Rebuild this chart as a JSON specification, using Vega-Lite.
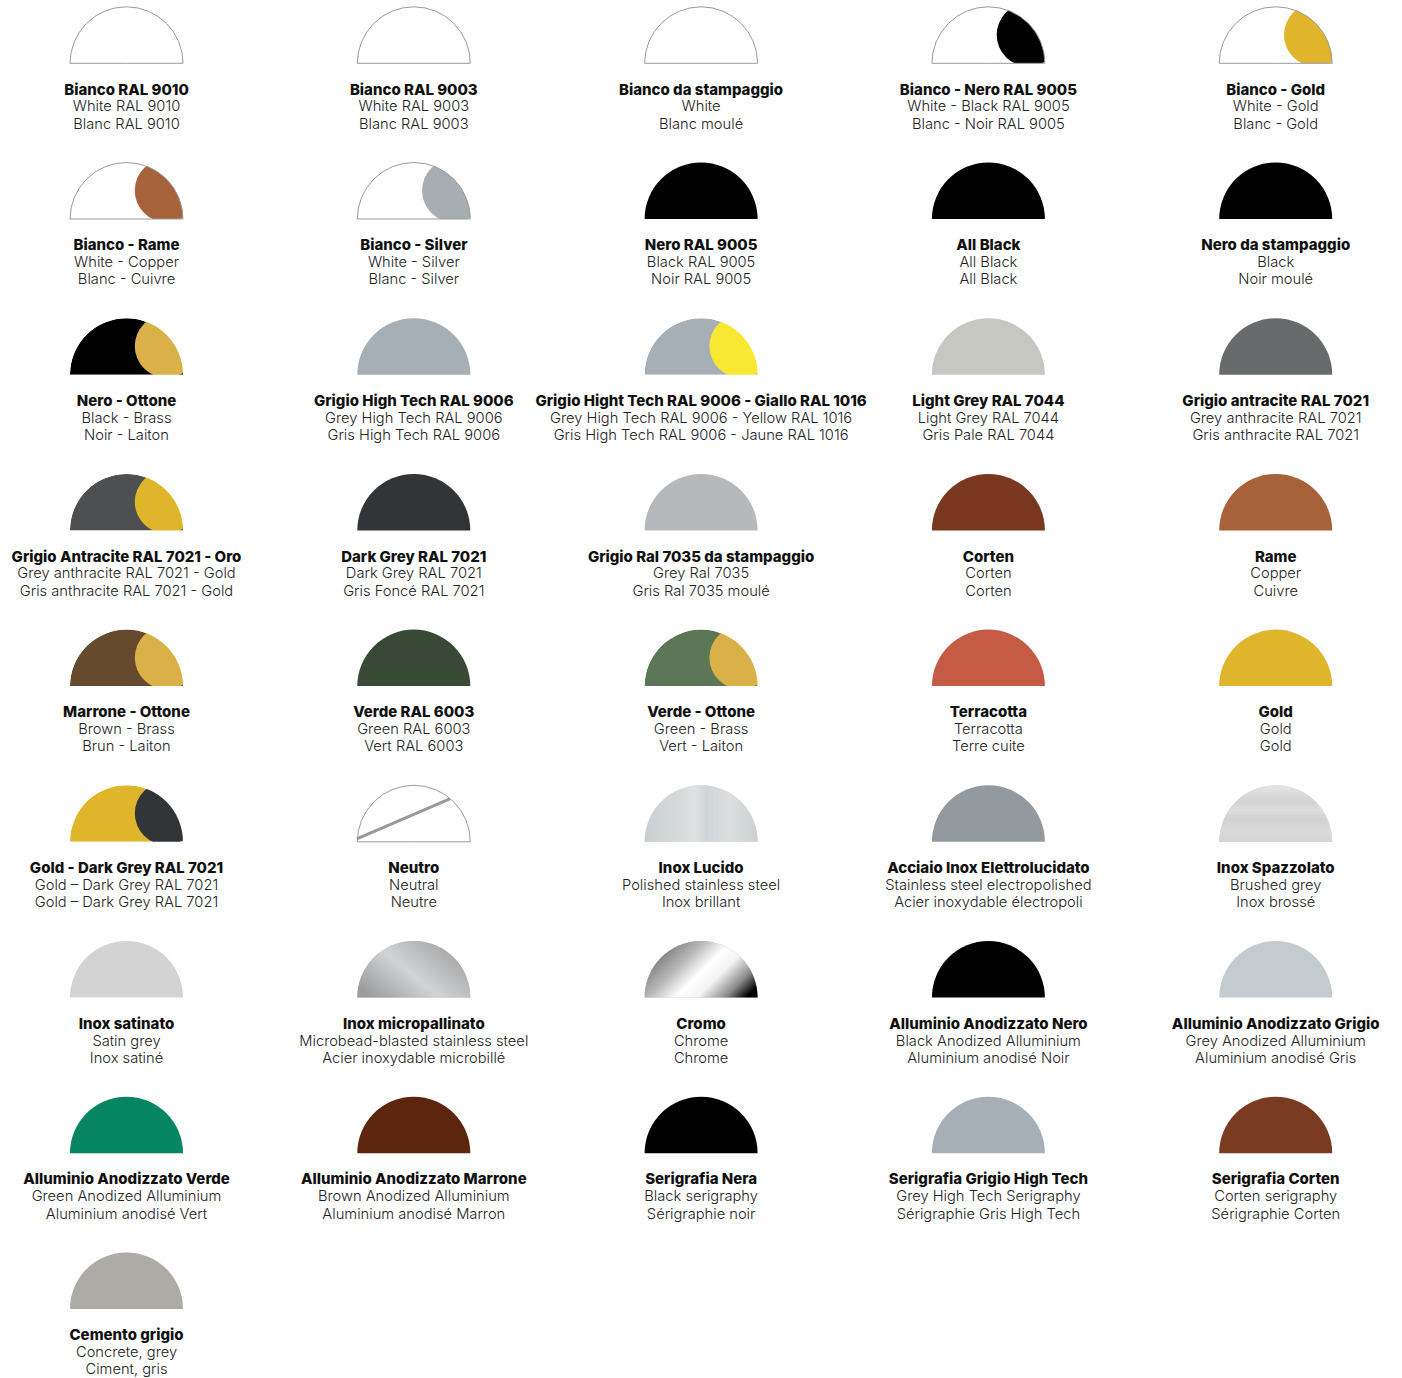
{
  "$schema": "https://vega.github.io/schema/vega-lite/v6.json",
  "width": 1402,
  "height": 1378,
  "autosize": {"type": "none"},
  "padding": 0,
  "background": "#ffffff",
  "config": {"view": {"stroke": null}},
  "data": {"values": [
    {"col": 0, "row": 0, "l1": "Bianco RAL 9010", "l2": "White RAL 9010", "l3": "Blanc RAL 9010", "main": "Bianco", "accent": null, "outline": true, "tex": null},
    {"col": 1, "row": 0, "l1": "Bianco RAL 9003", "l2": "White RAL 9003", "l3": "Blanc RAL 9003", "main": "Bianco", "accent": null, "outline": true, "tex": null},
    {"col": 2, "row": 0, "l1": "Bianco da stampaggio", "l2": "White", "l3": "Blanc moulé", "main": "Bianco", "accent": null, "outline": true, "tex": null},
    {"col": 3, "row": 0, "l1": "Bianco - Nero RAL 9005", "l2": "White - Black RAL 9005", "l3": "Blanc - Noir RAL 9005", "main": "Bianco", "accent": "Nero", "outline": true, "tex": null},
    {"col": 4, "row": 0, "l1": "Bianco - Gold", "l2": "White - Gold", "l3": "Blanc - Gold", "main": "Bianco", "accent": "Gold", "outline": true, "tex": null},
    {"col": 0, "row": 1, "l1": "Bianco - Rame", "l2": "White - Copper", "l3": "Blanc - Cuivre", "main": "Bianco", "accent": "Rame", "outline": true, "tex": null},
    {"col": 1, "row": 1, "l1": "Bianco - Silver", "l2": "White - Silver", "l3": "Blanc - Silver", "main": "Bianco", "accent": "Silver", "outline": true, "tex": null},
    {"col": 2, "row": 1, "l1": "Nero RAL 9005", "l2": "Black RAL 9005", "l3": "Noir RAL 9005", "main": "Nero", "accent": null, "outline": false, "tex": null},
    {"col": 3, "row": 1, "l1": "All Black", "l2": "All Black", "l3": "All Black", "main": "Nero", "accent": null, "outline": false, "tex": null},
    {"col": 4, "row": 1, "l1": "Nero da stampaggio", "l2": "Black", "l3": "Noir moulé", "main": "Nero", "accent": null, "outline": false, "tex": null},
    {"col": 0, "row": 2, "l1": "Nero - Ottone", "l2": "Black - Brass", "l3": "Noir - Laiton", "main": "Nero", "accent": "Ottone", "outline": false, "tex": null},
    {"col": 1, "row": 2, "l1": "Grigio High Tech RAL 9006", "l2": "Grey High Tech RAL 9006", "l3": "Gris High Tech RAL 9006", "main": "High Tech", "accent": null, "outline": false, "tex": null},
    {"col": 2, "row": 2, "l1": "Grigio Hight Tech RAL 9006 - Giallo RAL 1016", "l2": "Grey High Tech RAL 9006 - Yellow RAL 1016", "l3": "Gris High Tech RAL 9006 - Jaune RAL 1016", "main": "High Tech", "accent": "Giallo", "outline": false, "tex": null},
    {"col": 3, "row": 2, "l1": "Light Grey RAL 7044", "l2": "Light Grey RAL 7044", "l3": "Gris Pale RAL 7044", "main": "Light Grey", "accent": null, "outline": false, "tex": null},
    {"col": 4, "row": 2, "l1": "Grigio antracite RAL 7021", "l2": "Grey anthracite RAL 7021", "l3": "Gris anthracite RAL 7021", "main": "Antracite", "accent": null, "outline": false, "tex": null},
    {"col": 0, "row": 3, "l1": "Grigio Antracite RAL 7021 - Oro", "l2": "Grey anthracite RAL 7021 - Gold", "l3": "Gris anthracite RAL 7021 - Gold", "main": "Antracite scuro", "accent": "Gold", "outline": false, "tex": null},
    {"col": 1, "row": 3, "l1": "Dark Grey RAL 7021", "l2": "Dark Grey RAL 7021", "l3": "Gris Foncé RAL 7021", "main": "Dark Grey", "accent": null, "outline": false, "tex": null},
    {"col": 2, "row": 3, "l1": "Grigio Ral 7035 da stampaggio", "l2": "Grey Ral 7035", "l3": "Gris Ral 7035 moulé", "main": "Grigio 7035", "accent": null, "outline": false, "tex": null},
    {"col": 3, "row": 3, "l1": "Corten", "l2": "Corten", "l3": "Corten", "main": "Corten", "accent": null, "outline": false, "tex": null},
    {"col": 4, "row": 3, "l1": "Rame", "l2": "Copper", "l3": "Cuivre", "main": "Rame", "accent": null, "outline": false, "tex": null},
    {"col": 0, "row": 4, "l1": "Marrone - Ottone", "l2": "Brown - Brass", "l3": "Brun - Laiton", "main": "Marrone", "accent": "Ottone", "outline": false, "tex": null},
    {"col": 1, "row": 4, "l1": "Verde RAL 6003", "l2": "Green RAL 6003", "l3": "Vert RAL 6003", "main": "Verde 6003", "accent": null, "outline": false, "tex": null},
    {"col": 2, "row": 4, "l1": "Verde - Ottone", "l2": "Green - Brass", "l3": "Vert - Laiton", "main": "Verde", "accent": "Ottone", "outline": false, "tex": null},
    {"col": 3, "row": 4, "l1": "Terracotta", "l2": "Terracotta", "l3": "Terre cuite", "main": "Terracotta", "accent": null, "outline": false, "tex": null},
    {"col": 4, "row": 4, "l1": "Gold", "l2": "Gold", "l3": "Gold", "main": "Gold", "accent": null, "outline": false, "tex": null},
    {"col": 0, "row": 5, "l1": "Gold - Dark Grey RAL 7021", "l2": "Gold – Dark Grey RAL 7021", "l3": "Gold – Dark Grey RAL 7021", "main": "Gold", "accent": "Dark Grey", "outline": false, "tex": null},
    {"col": 1, "row": 5, "l1": "Neutro", "l2": "Neutral", "l3": "Neutre", "main": "Bianco", "accent": null, "outline": true, "tex": "neutro"},
    {"col": 2, "row": 5, "l1": "Inox Lucido", "l2": "Polished stainless steel", "l3": "Inox brillant", "main": "Inox Lucido", "accent": null, "outline": false, "tex": "lucido"},
    {"col": 3, "row": 5, "l1": "Acciaio Inox Elettrolucidato", "l2": "Stainless steel electropolished", "l3": "Acier inoxydable électropoli", "main": "Elettrolucidato", "accent": null, "outline": false, "tex": null},
    {"col": 4, "row": 5, "l1": "Inox Spazzolato", "l2": "Brushed grey", "l3": "Inox brossé", "main": "Spazzolato", "accent": null, "outline": false, "tex": "spazzolato"},
    {"col": 0, "row": 6, "l1": "Inox satinato", "l2": "Satin grey", "l3": "Inox satiné", "main": "Satinato", "accent": null, "outline": false, "tex": null},
    {"col": 1, "row": 6, "l1": "Inox micropallinato", "l2": "Microbead-blasted stainless steel", "l3": "Acier inoxydable microbillé", "main": "Micropallinato", "accent": null, "outline": false, "tex": "micro"},
    {"col": 2, "row": 6, "l1": "Cromo", "l2": "Chrome", "l3": "Chrome", "main": "Cromo", "accent": null, "outline": false, "tex": "cromo"},
    {"col": 3, "row": 6, "l1": "Alluminio Anodizzato Nero", "l2": "Black Anodized Alluminium", "l3": "Aluminium anodisé Noir", "main": "Nero", "accent": null, "outline": false, "tex": null},
    {"col": 4, "row": 6, "l1": "Alluminio Anodizzato Grigio", "l2": "Grey Anodized Alluminium", "l3": "Aluminium anodisé Gris", "main": "Anodizzato Grigio", "accent": null, "outline": false, "tex": null},
    {"col": 0, "row": 7, "l1": "Alluminio Anodizzato Verde", "l2": "Green Anodized Alluminium", "l3": "Aluminium anodisé Vert", "main": "Anodizzato Verde", "accent": null, "outline": false, "tex": null},
    {"col": 1, "row": 7, "l1": "Alluminio Anodizzato Marrone", "l2": "Brown Anodized Alluminium", "l3": "Aluminium anodisé Marron", "main": "Anodizzato Marrone", "accent": null, "outline": false, "tex": null},
    {"col": 2, "row": 7, "l1": "Serigrafia Nera", "l2": "Black serigraphy", "l3": "Sérigraphie noir", "main": "Nero", "accent": null, "outline": false, "tex": null},
    {"col": 3, "row": 7, "l1": "Serigrafia Grigio High Tech", "l2": "Grey High Tech Serigraphy", "l3": "Sérigraphie Gris High Tech", "main": "High Tech", "accent": null, "outline": false, "tex": null},
    {"col": 4, "row": 7, "l1": "Serigrafia Corten", "l2": "Corten serigraphy", "l3": "Sérigraphie Corten", "main": "Serigrafia Corten", "accent": null, "outline": false, "tex": null},
    {"col": 0, "row": 8, "l1": "Cemento grigio", "l2": "Concrete, grey", "l3": "Ciment, gris", "main": "Cemento", "accent": null, "outline": false, "tex": null}
  ]},
  "encoding": {
    "x": {"field": "col", "type": "quantitative", "scale": {"domain": [-0.4403, 4.4396], "nice": false, "zero": false}, "axis": null},
    "y": {"field": "row", "type": "quantitative", "scale": {"domain": [-0.4066, 8.4438], "nice": false, "zero": false, "reverse": true}, "axis": null}
  },
  "layer": [
    {
      "mark": {"type": "arc", "theta": -1.5707963, "theta2": 1.5707963, "radius": 56.5},
      "encoding": {
        "color": {"field": "main", "type": "nominal", "legend": null, "scale": {
          "domain": ["Bianco", "Nero", "Gold", "Rame", "Silver", "Ottone", "High Tech", "Giallo", "Light Grey", "Antracite", "Antracite scuro", "Dark Grey", "Grigio 7035", "Corten", "Marrone", "Verde 6003", "Verde", "Terracotta", "Inox Lucido", "Elettrolucidato", "Spazzolato", "Satinato", "Micropallinato", "Cromo", "Anodizzato Grigio", "Anodizzato Verde", "Anodizzato Marrone", "Serigrafia Corten", "Cemento"],
          "range": ["#ffffff", "#000000", "#dfb62b", "#a8623a", "#a6aeb2", "#dab048", "#a5afb5", "#f8e833", "#c6c7c1", "#676b6c", "#4d4f50", "#313537", "#b5b9bb", "#7a3820", "#654a2e", "#384a36", "#5b7755", "#c55b45", "#d5d9da", "#939a9f", "#d6d7d8", "#d3d3d3", "#b8babb", "#bbbbbb", "#c4cbcf", "#068660", "#5c250e", "#7b3b22", "#aeaaa6"]
        }}
      }
    },
    {
      "transform": [{"filter": "datum.accent != null"}],
      "mark": {"type": "arc", "theta": 0, "theta2": 6.2831853, "radius": 31.7, "xOffset": 40, "yOffset": -28.5},
      "encoding": {
        "color": {"field": "accent", "type": "nominal", "legend": null}
      }
    },
    {
      "transform": [{"filter": "datum.accent != null"}],
      "mark": {"type": "arc", "theta": -1.5707963, "theta2": 1.5707963, "radius": 95, "radius2": 56.5, "fill": "#ffffff"},
      "encoding": {}
    },
    {
      "transform": [{"filter": "datum.accent != null"}],
      "mark": {"type": "arc", "theta": 1.5707963, "theta2": 4.712389, "radius": 60, "fill": "#ffffff"},
      "encoding": {}
    },
    {
      "transform": [{"filter": "datum.tex == 'lucido'"}],
      "mark": {"type": "arc", "theta": -1.5707963, "theta2": 1.5707963, "radius": 56.5,
        "fill": {"gradient": "linear", "x1": 0, "y1": 0, "x2": 1, "y2": 0, "stops": [
          {"offset": 0, "color": "#c9cfd1"}, {"offset": 0.25, "color": "#d4d8d9"}, {"offset": 0.45, "color": "#dfe2e3"}, {"offset": 0.55, "color": "#cfd4d6"}, {"offset": 0.75, "color": "#dcdfe0"}, {"offset": 1, "color": "#cad0d1"}]}},
      "encoding": {}
    },
    {
      "transform": [{"filter": "datum.tex == 'spazzolato'"}],
      "mark": {"type": "arc", "theta": -1.5707963, "theta2": 1.5707963, "radius": 56.5,
        "fill": {"gradient": "linear", "x1": 0, "y1": 0, "x2": 0, "y2": 1, "stops": [
          {"offset": 0, "color": "#e4e4e4"}, {"offset": 0.3, "color": "#d2d3d4"}, {"offset": 0.45, "color": "#dedede"}, {"offset": 0.6, "color": "#cfd0d1"}, {"offset": 0.8, "color": "#dadada"}, {"offset": 1, "color": "#d4d5d6"}]}},
      "encoding": {}
    },
    {
      "transform": [{"filter": "datum.tex == 'micro'"}],
      "mark": {"type": "arc", "theta": -1.5707963, "theta2": 1.5707963, "radius": 56.5,
        "fill": {"gradient": "linear", "x1": 0, "y1": 0.8, "x2": 1, "y2": 0.2, "stops": [
          {"offset": 0, "color": "#9a9c9e"}, {"offset": 0.45, "color": "#d2d3d4"}, {"offset": 0.6, "color": "#c3c4c5"}, {"offset": 1, "color": "#9c9ea0"}]}},
      "encoding": {}
    },
    {
      "transform": [{"filter": "datum.tex == 'cromo'"}],
      "mark": {"type": "arc", "theta": -1.5707963, "theta2": 1.5707963, "radius": 56.5,
        "fill": {"gradient": "linear", "x1": 0, "y1": 0.3, "x2": 1, "y2": 0.8, "stops": [
          {"offset": 0, "color": "#6a6a6a"}, {"offset": 0.3, "color": "#b8b8b8"}, {"offset": 0.5, "color": "#ffffff"}, {"offset": 0.65, "color": "#f4f4f4"}, {"offset": 0.85, "color": "#8a8a8a"}, {"offset": 1, "color": "#000000"}]}},
      "encoding": {}
    },
    {
      "transform": [{"filter": "datum.outline"}],
      "mark": {"type": "arc", "theta": -1.5707963, "theta2": 1.5707963, "radius": 56.5, "fill": null, "fillOpacity": 0, "stroke": "#9a9a9a", "strokeWidth": 1},
      "encoding": {}
    },
    {
      "transform": [{"filter": "datum.tex == 'neutro'"}],
      "mark": {"type": "rule", "xOffset": -57, "yOffset": -3, "x2Offset": 36, "y2Offset": -43, "stroke": "#999999", "strokeWidth": 3},
      "encoding": {
        "x2": {"field": "col"},
        "y2": {"field": "row"}
      }
    },
    {
      "mark": {"type": "text", "font": "Inter", "fontSize": 15, "fontWeight": 800, "dy": 26.2, "baseline": "middle", "align": "center", "color": "#111111"},
      "encoding": {"text": {"field": "l1"}}
    },
    {
      "mark": {"type": "text", "font": "Inter", "fontSize": 14.7, "fontWeight": 300, "dy": 44, "baseline": "middle", "align": "center", "color": "#222222"},
      "encoding": {"text": {"field": "l2"}}
    },
    {
      "mark": {"type": "text", "font": "Inter", "fontSize": 14.7, "fontWeight": 300, "dy": 61.3, "baseline": "middle", "align": "center", "color": "#222222"},
      "encoding": {"text": {"field": "l3"}}
    }
  ]
}
